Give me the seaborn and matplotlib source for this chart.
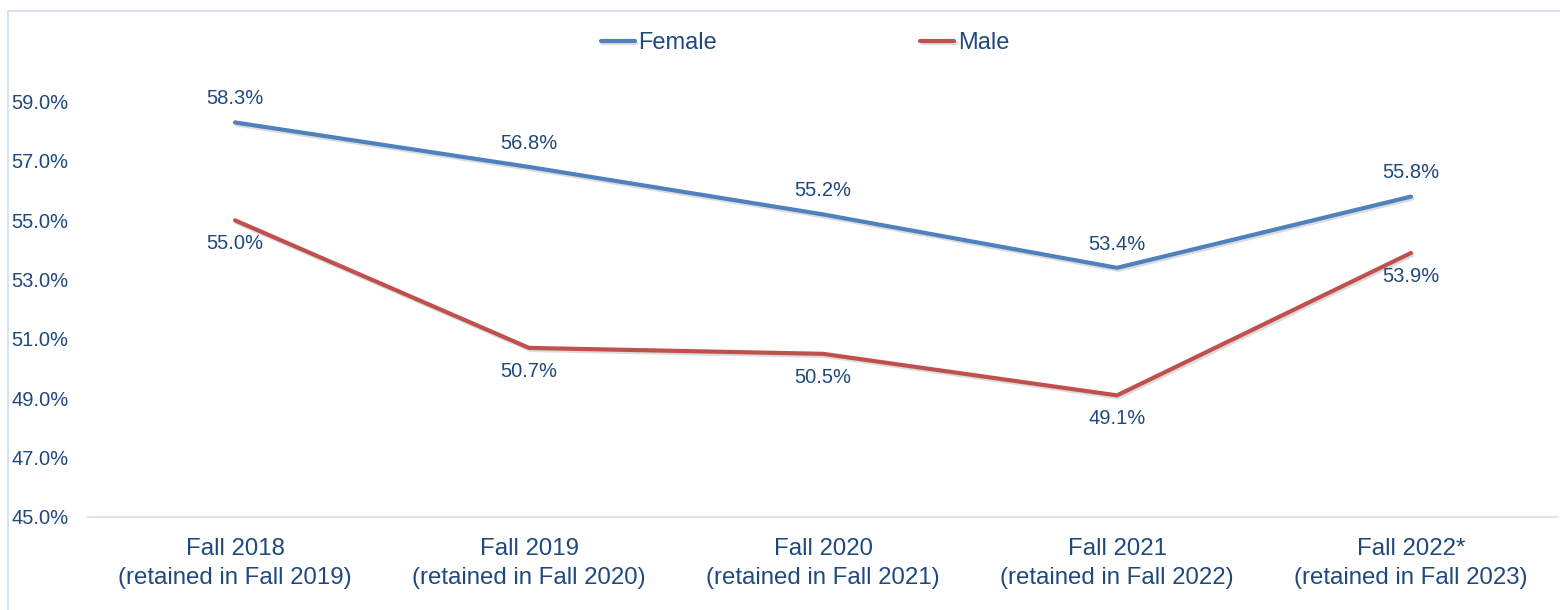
import matplotlib
matplotlib.use("Agg")
import matplotlib.pyplot as plt
import matplotlib.patheffects as pe
from matplotlib.patches import Rectangle
import seaborn as sns
import pandas as pd

categories = ["Fall 2018\n(retained in Fall 2019)", "Fall 2019\n(retained in Fall 2020)",
              "Fall 2020\n(retained in Fall 2021)", "Fall 2021\n(retained in Fall 2022)",
              "Fall 2022*\n(retained in Fall 2023)"]
female = [58.3, 56.8, 55.2, 53.4, 55.8]
male = [55.0, 50.7, 50.5, 49.1, 53.9]
series_names = ["Female", "Male"]
yticks = [45, 47, 49, 51, 53, 55, 57, 59]

colors = {"Female": "#4F81BD", "Male": "#C0504D"}
text_color = "#1F497D"

sns.set_theme(style="white")
plt.rcParams['font.family'] = ['Liberation Sans', 'DejaVu Sans']

df = pd.DataFrame({
    "cat": categories * 2,
    "idx": list(range(len(categories))) * 2,
    "value": female + male,
    "series": [series_names[0]] * len(female) + [series_names[1]] * len(male),
})

fig = plt.figure(figsize=(15.6, 6.1), dpi=100)
ax = fig.add_axes([88 / 1560, 93 / 610, (1558 - 88) / 1560, (517 - 72) / 610])

sns.lineplot(data=df, x="idx", y="value", hue="series", palette=colors, ax=ax,
             linewidth=3, legend=True, sort=False,
             path_effects=[pe.SimpleLineShadow(offset=(1, -1.5), alpha=0.15), pe.Normal()])

ax.set_xlim(-0.5, len(categories) - 0.5)
ax.set_ylim(45, 60)
ax.set_yticks(yticks)
ax.set_yticklabels([f"{v:.1f}%" for v in yticks], fontsize=14.5, color=text_color)
ax.set_xticks(range(len(categories)))
ax.set_xticklabels(categories, fontsize=17.3, color=text_color, linespacing=1.4)
ax.tick_params(axis="both", length=0)
for lab in ax.get_yticklabels():
    lab.set_horizontalalignment("left")
ax.yaxis.set_tick_params(pad=55)
ax.xaxis.set_tick_params(pad=15)
ax.set_xlabel("")
ax.set_ylabel("")
for s in ["top", "right", "left"]:
    ax.spines[s].set_visible(False)
ax.spines["bottom"].set_color("#DCE6F2")
ax.spines["bottom"].set_linewidth(1.5)

for i, v in enumerate(female):
    ax.annotate(f"{v:.1f}%", (i, v), xytext=(0, 17), textcoords="offset points",
                ha="center", va="center", fontsize=14.5, color=text_color)
for i, v in enumerate(male):
    ax.annotate(f"{v:.1f}%", (i, v), xytext=(0, -17), textcoords="offset points",
                ha="center", va="center", fontsize=14.5, color=text_color)

handles, labels = ax.get_legend_handles_labels()
leg = ax.legend(handles, labels, loc="center", bbox_to_anchor=(805 / 1560, 1 - 43 / 610),
                bbox_transform=fig.transFigure, ncol=2, frameon=False, fontsize=17,
                handlelength=1.45, handletextpad=0.15, columnspacing=8.6, borderpad=0)
for t in leg.get_texts():
    t.set_color(text_color)
for h in leg.get_lines():
    h.set_linewidth(3)

fig.patches.append(Rectangle((8 / 1560, -0.1), 1.2, (610 - 11) / 610 + 0.1,
                             transform=fig.transFigure, fill=False,
                             edgecolor="#D0DDF0", linewidth=1.2))

fig.savefig("out.png", dpi=100)
